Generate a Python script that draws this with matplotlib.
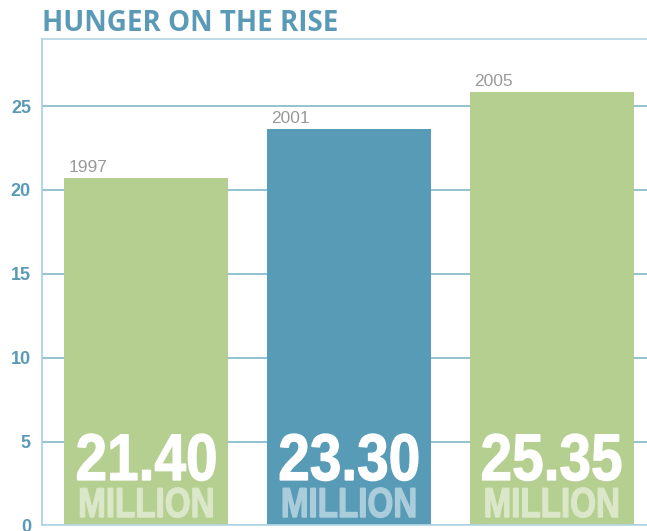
import matplotlib.pyplot as plt
from matplotlib.colors import to_rgb
from matplotlib.textpath import TextPath
from matplotlib.font_manager import FontProperties
from matplotlib.patches import PathPatch
from matplotlib.transforms import Affine2D, ScaledTranslation

years = ["1997", "2001", "2005"]
bar_heights = [20.73, 23.66, 25.86]
labels = ["21.40", "23.30", "25.35"]
colors = ["#b5cf90", "#579bb7", "#b5cf90"]
yticks = [0, 5, 10, 15, 20, 25]

blue_text = "#5a9ab7"
grid_col = "#82b7cc"


def condensed_text(ax, x, y, s, size_px, squeeze, color):
    # no condensed font installed, so squeeze a bold path horizontally
    fp = FontProperties(family="Liberation Sans", weight="bold")
    tp = TextPath((0, 0), s, size=size_px, prop=fp)
    ext = tp.get_extents()
    tr = (Affine2D().translate(-(ext.x0 + ext.x1) / 2, 0).scale(squeeze, 1)
          + ScaledTranslation(x, y, ax.transData))
    ax.add_patch(PathPatch(tp, transform=tr, facecolor=color, edgecolor=color,
                           linewidth=0.9, zorder=3))


def lighten(c, amt=0.5):
    r, g, b = to_rgb(c)
    return (r + (1 - r) * amt, g + (1 - g) * amt, b + (1 - b) * amt)


fig = plt.figure(figsize=(6.47, 5.31), dpi=100)
ax = fig.add_axes([0.0649, 0.0104, 0.9351, 0.9162])

x = list(range(len(years)))
width = 0.81
ax.bar(x, bar_heights, width=width, color=colors, zorder=2)

ax.set_xlim(-0.515, 2.47)
ax.set_ylim(0, 29)
ax.set_yticks(yticks)
ax.set_xticks([])
ax.yaxis.grid(True, color=grid_col, linewidth=1.2, zorder=0)
ax.set_axisbelow(True)
ax.tick_params(axis="y", length=0, pad=8, labelsize=13, labelcolor=blue_text)
for lab in ax.get_yticklabels():
    lab.set_fontweight("bold")
    lab.set_family(["Liberation Sans"])

ax.spines["right"].set_visible(False)
ax.spines["left"].set_color("#a9d0e0")
ax.spines["top"].set_color("#b4d6e5")
ax.spines["bottom"].set_color("#b4d6e5")
for side in ["left", "top", "bottom"]:
    ax.spines[side].set_linewidth(1.2)

for xi, h, yr, lab, c in zip(x, bar_heights, years, labels, colors):
    ax.text(xi - width / 2 + 0.02, h + 0.15, yr, ha="left", va="bottom",
            fontsize=12.5, color="#999999", family=["Liberation Sans"], zorder=3)
    condensed_text(ax, xi, 2.71, lab, 66, 0.86, "white")
    condensed_text(ax, xi, 0.5, "MILLION", 42, 0.79, lighten(c, 0.5))

fig.text(42 / 647, 1 - 31 / 531, "HUNGER ON THE RISE", ha="left", va="baseline",
         fontsize=20, fontweight="bold", color=blue_text, family=["Open Sans"])

fig.savefig("out.png", dpi=100)
